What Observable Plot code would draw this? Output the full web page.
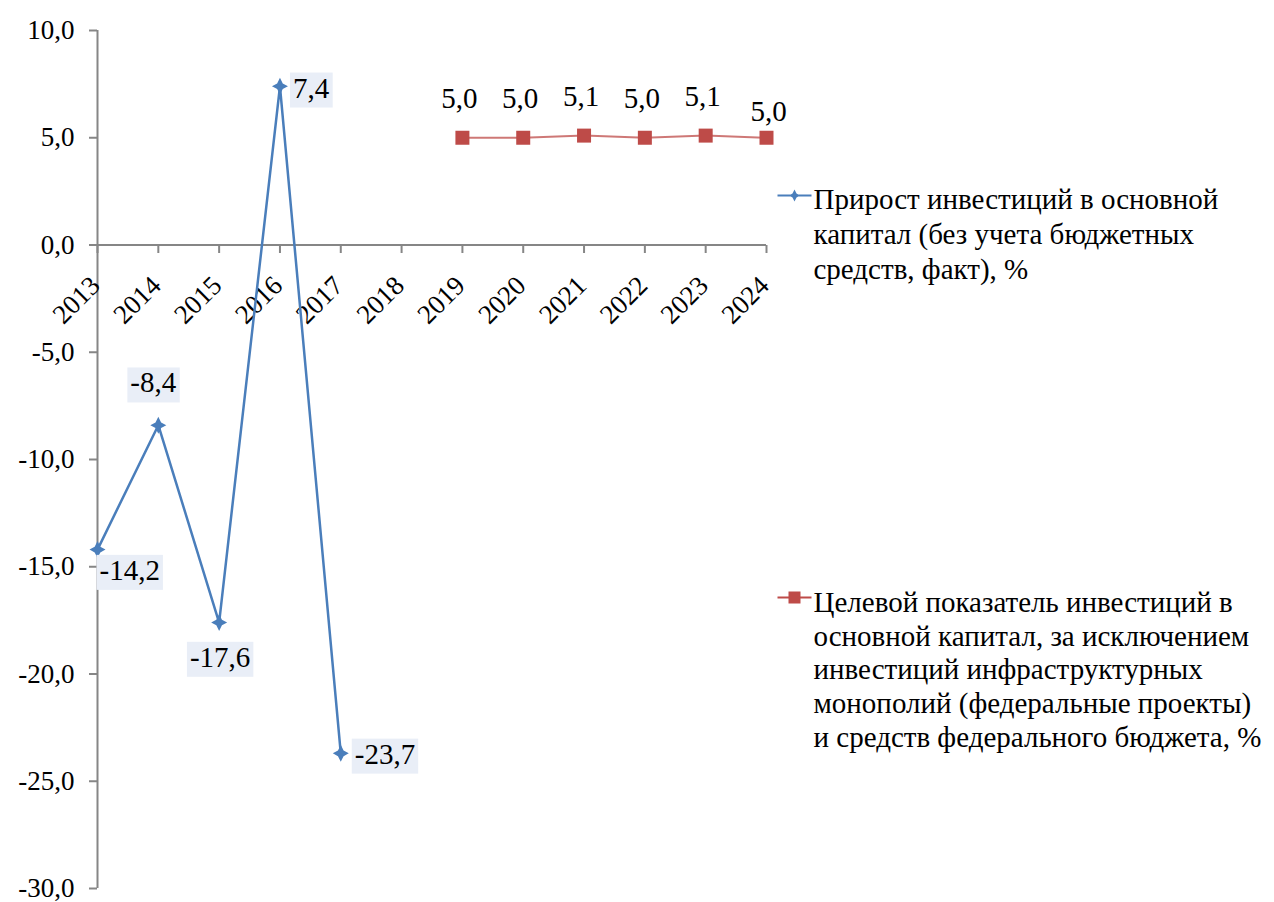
<!DOCTYPE html>
<html>
<head>
<meta charset="utf-8">
<script src="https://cdn.jsdelivr.net/npm/d3@7"></script>
<script src="https://cdn.jsdelivr.net/npm/@observablehq/plot@0.6"></script>
<style>
  body { margin: 0; background: #fff; }
  #chart svg { display: block; }
</style>
</head>
<body>
<div id="chart"></div>
<script>
// Categories on the horizontal axis
const years = ["2013", "2014", "2015", "2016", "2017", "2018", "2019", "2020", "2021", "2022", "2023", "2024"];

// Actual growth of investment (without budget funds), %
const factYears = ["2013", "2014", "2015", "2016", "2017"];
const factValues = [-14.2, -8.4, -17.6, 7.4, -23.7];

// Target indicator of investment, %
const targetYears = ["2019", "2020", "2021", "2022", "2023", "2024"];
const targetValues = [5.0, 5.0, 5.1, 5.0, 5.1, 5.0];

// Vertical axis ticks
const yTicks = [-30, -25, -20, -15, -10, -5, 0, 5, 10];

// Series names (as wrapped in the legend)
const seriesNames = [
  "Прирост инвестиций в основной\nкапитал (без учета бюджетных\nсредств, факт), %",
  "Целевой показатель инвестиций в\nосновной капитал, за исключением\nинвестиций инфраструктурных\nмонополий (федеральные проекты)\nи средств федерального бюджета, %"
];

const BLUE = "#4A7EBB";
const RED = "#BE4B48";
const AXIS = "#868686";
const LABEL_BG = "#E9EEF7";
const FONT = '"Liberation Serif", "Times New Roman", serif';

const fmt = v => v.toFixed(1).replace(".", ",");

const fact = factYears.map((year, i) => ({year, value: factValues[i]}));
const target = targetYears.map((year, i) => ({year, value: targetValues[i]}));

// Marker shapes
const diamond = {
  draw(ctx) {
    ctx.moveTo(0, -8.5);
    ctx.lineTo(2.8, -2.8);
    ctx.lineTo(8, 0);
    ctx.lineTo(2.8, 2.8);
    ctx.lineTo(0, 8.5);
    ctx.lineTo(-2.8, 2.8);
    ctx.lineTo(-8, 0);
    ctx.lineTo(-2.8, -2.8);
    ctx.closePath();
  }
};
const square = {draw(ctx) { ctx.rect(-7, -7, 14, 14); }};
const tickDown = {draw(ctx) { ctx.moveTo(0, 0); ctx.lineTo(0, 8); }};
const legendDiamond = {
  draw(ctx) {
    ctx.rect(-17, -1, 34, 2);
    ctx.moveTo(0, -6);
    ctx.lineTo(2, -2);
    ctx.lineTo(5.5, 0);
    ctx.lineTo(2, 2);
    ctx.lineTo(0, 6);
    ctx.lineTo(-2, 2);
    ctx.lineTo(-5.5, 0);
    ctx.lineTo(-2, -2);
    ctx.closePath();
  }
};
const legendSquare = {draw(ctx) { ctx.rect(-17, -1, 34, 2); ctx.rect(-6, -6, 12, 12); }};

// Placement of each value label on the actual series
const factLabelPlacement = {
  "2013": {textAnchor: "start", dx: 2, dy: 21},
  "2014": {textAnchor: "middle", dx: -5, dy: -42},
  "2015": {textAnchor: "middle", dx: 1, dy: 35},
  "2016": {textAnchor: "start", dx: 13, dy: 2},
  "2017": {textAnchor: "start", dx: 14, dy: 1}
};

const factLabels = fact.map(d => Plot.text([d], {
  x: "year", y: "value", text: d => fmt(d.value),
  fontSize: 29, fill: "black", ariaDescription: "boxed",
  ...factLabelPlacement[d.year]
}));

const chart = Plot.plot({
  width: 1274,
  height: 902,
  marginLeft: 97,
  marginRight: 508,
  marginTop: 30,
  marginBottom: 14,
  style: {fontFamily: FONT, fontSize: "26px", background: "#fff", color: "black"},
  x: {type: "point", domain: years, padding: 0, round: false, axis: null},
  y: {domain: [-30, 10]},
  marks: [
    // Axes
    Plot.axisY(yTicks, {
      tickFormat: fmt, tickSize: 8, tickPadding: 15, label: null,
      color: "black", stroke: AXIS, strokeWidth: 2, fontSize: 27
    }),
    Plot.ruleX([years[0]], {stroke: AXIS, strokeWidth: 2}),
    Plot.ruleY([0], {stroke: AXIS, strokeWidth: 2}),
    Plot.dot(years, {x: d => d, y: 0, symbol: tickDown, fill: "none", stroke: AXIS, strokeWidth: 2}),
    Plot.text(years, {
      x: d => d, y: 0, text: d => d, rotate: -45, textAnchor: "end",
      dx: -2, dy: 36, fontSize: 27, fill: "black"
    }),

    // Target series
    Plot.line(target, {x: "year", y: "value", stroke: RED, strokeOpacity: 0.75, strokeWidth: 2}),
    Plot.dot(target, {x: "year", y: "value", symbol: square, fill: RED, stroke: "none"}),
    Plot.text(target.slice(0, -1), {x: "year", y: "value", text: d => fmt(d.value), dx: -3, dy: -39, fontSize: 29, fill: "black"}),
    Plot.text(target.slice(-1), {x: "year", y: "value", text: d => fmt(d.value), dx: 2, dy: -26, fontSize: 29, fill: "black"}),

    // Actual series
    Plot.line(fact, {x: "year", y: "value", stroke: BLUE, strokeWidth: 2.5}),
    Plot.dot(fact, {x: "year", y: "value", symbol: diamond, fill: BLUE, stroke: "none"}),
    ...factLabels,

    // Legend
    Plot.dot([seriesNames[0]], {frameAnchor: "top-right", dx: 28, dy: 165, symbol: legendDiamond, fill: BLUE, stroke: "none"}),
    Plot.text([seriesNames[0]], {
      frameAnchor: "top-right", dx: 47, dy: 154, text: d => d,
      textAnchor: "start", lineAnchor: "top", lineHeight: 1.2, fontSize: 29, fill: "black"
    }),
    Plot.dot([seriesNames[1]], {frameAnchor: "top-right", dx: 28, dy: 567, symbol: legendSquare, fill: RED, stroke: "none"}),
    Plot.text([seriesNames[1]], {
      frameAnchor: "top-right", dx: 47, dy: 557, text: d => d,
      textAnchor: "start", lineAnchor: "top", lineHeight: 1.17, fontSize: 29, fill: "black"
    })
  ]
});

document.getElementById("chart").append(chart);

// Shaded boxes behind the labels of the actual series
d3.select(chart).selectAll('g[aria-description="boxed"] text').each(function () {
  const b = this.getBBox();
  d3.select(this.parentNode)
    .insert("rect", () => this)
    .attr("transform", this.getAttribute("transform"))
    .attr("x", b.x - 3)
    .attr("y", b.y + 1)
    .attr("width", b.width + 6)
    .attr("height", b.height + 3)
    .attr("fill", LABEL_BG);
});
</script>
</body>
</html>
